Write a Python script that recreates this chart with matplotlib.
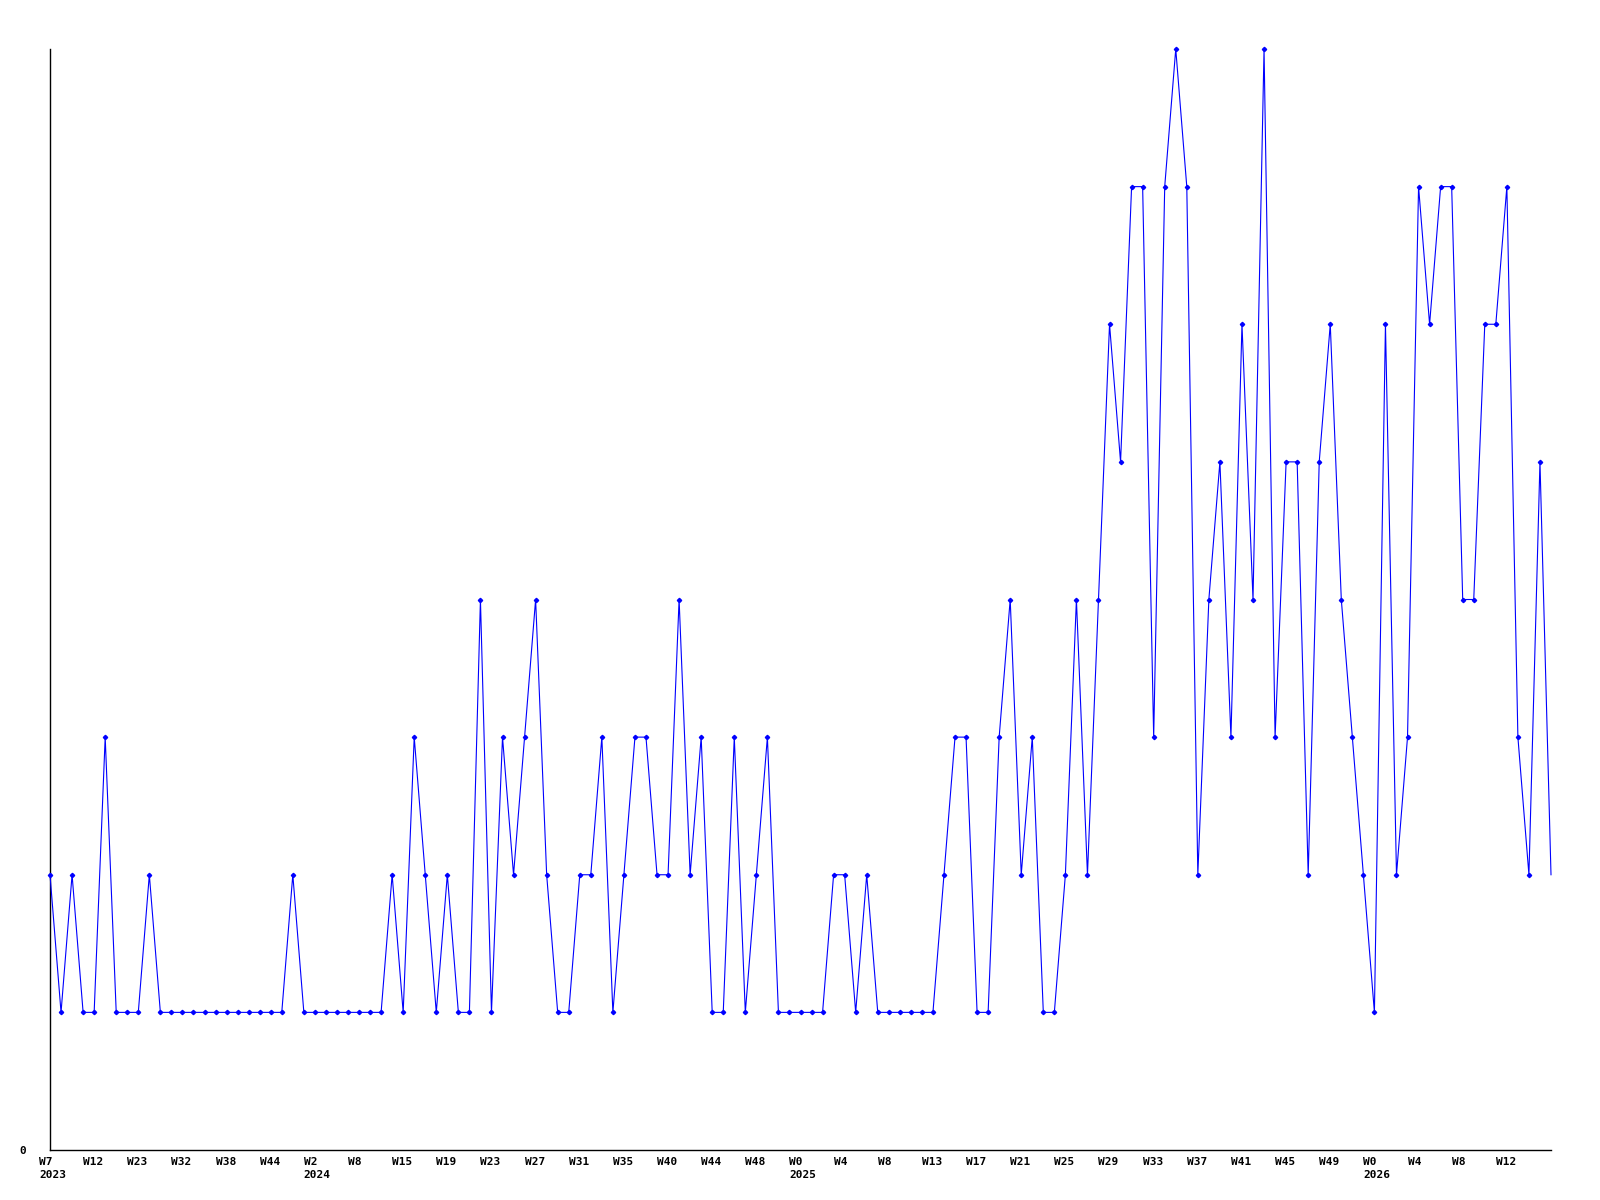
import matplotlib
matplotlib.use("Agg")
import matplotlib.pyplot as plt

# ---------- dados ----------
valores = [
    2, 1, 2, 1, 1, 3, 1, 1, 1, 2,
    1, 1, 1, 1, 1, 1, 1, 1, 1, 1, 1, 1,
    2, 1, 1, 1, 1, 1, 1, 1, 1,
    2, 1, 3, 2, 1, 2, 1, 1, 4, 1, 3, 2, 3, 4, 2, 1, 1, 2, 2, 3, 1, 2, 3, 3,
    2, 2, 4, 2, 3, 1, 1, 3, 1, 2, 3, 1, 1, 1, 1, 1, 2, 2, 1, 2,
    1, 1, 1, 1, 1, 1, 2, 3, 3, 1, 1, 3, 4, 2, 3, 1, 1, 2, 4, 2, 4,
    6, 5, 7, 7, 3, 7, 8, 7, 2, 4, 5, 3, 6, 4, 8, 3, 5, 5, 2, 5, 6, 4,
    3, 2, 1, 6, 2, 3, 7, 6, 7, 7, 4, 4, 6, 6, 7, 3, 2, 5, 2,
]

semanas = [
    "W7", "W12", "W23", "W32", "W38", "W44", "W2", "W8", "W15", "W19",
    "W23", "W27", "W31", "W35", "W40", "W44", "W48", "W0", "W4", "W8",
    "W13", "W17", "W21", "W25", "W29", "W33", "W37", "W41", "W45", "W49",
    "W0", "W4", "W8", "W12",
]
anos = {0: "2023", 6: "2024", 17: "2025", 30: "2026"}

FONTE = dict(family="DejaVu Sans Mono", weight="bold", size=8)

fig = plt.figure(figsize=(16, 12), dpi=100)
ax = fig.add_axes([50 / 1600, 1 - 1150 / 1200, 1501 / 1600, 1101 / 1200])

x = list(range(len(valores)))
ax.plot(x, valores, color="#0000ff", linewidth=0.8, marker="D", markersize=2.2,
        markevery=slice(0, len(valores) - 1), clip_on=False, zorder=3)

ax.set_xlim(0, len(valores) - 1)
ax.set_ylim(0, 8)

for s in ["top", "right"]:
    ax.spines[s].set_visible(False)
for s in ["left", "bottom"]:
    ax.spines[s].set_linewidth(1.0)
    ax.spines[s].set_color("black")

ax.set_xticks([])
ax.set_yticks([0])
ax.set_yticklabels(["0"], fontdict=FONTE)
ax.tick_params(axis="y", length=0, pad=17)

# rótulos das semanas: um a cada 4 pontos, começando antes do primeiro
for i, sem in enumerate(semanas):
    pos = -1 + 4 * i
    txt = sem
    if i in anos:
        txt = sem + "\n" + anos[i]
    ax.annotate(txt, xy=(pos, 0), xycoords=("data", "axes fraction"),
                xytext=(0, -7), textcoords="offset pixels",
                ha="left", va="top", linespacing=1.35, annotation_clip=False,
                **FONTE)

fig.savefig("out.png", dpi=100)
